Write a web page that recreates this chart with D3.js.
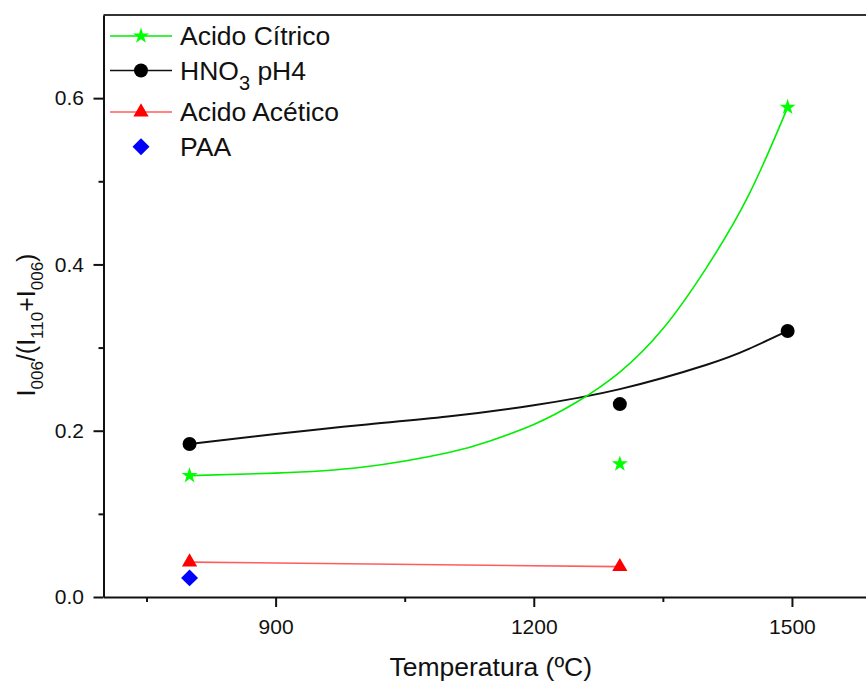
<!DOCTYPE html>
<html>
<head>
<meta charset="utf-8">
<script src="https://cdn.jsdelivr.net/npm/d3@7"></script>
<style>
  html, body { margin: 0; padding: 0; background: #fff; }
  svg { display: block; font-family: "Liberation Sans", Arial, sans-serif; }
</style>
</head>
<body>
<svg id="chart" width="866" height="682"></svg>
<script>
// Measured points (temperature in ºC, ratio I006/(I110+I006))
const citricoT = [800, 1300, 1495];
const citricoY = [0.146, 0.160, 0.589];
const hno3T = [800, 1300, 1495];
const hno3Y = [0.184, 0.232, 0.320];
const aceticoT = [800, 1300];
const aceticoY = [0.042, 0.0365];
const paaT = [800];
const paaY = [0.023];

// Fitted trend curves, sampled along their path
const citricoFitT = [800, 900, 1000, 1100, 1150, 1200, 1250, 1300, 1350, 1400, 1450, 1495];
const citricoFitY = [0.146, 0.149, 0.156, 0.1735, 0.188, 0.2075, 0.2345, 0.2705, 0.3225, 0.395, 0.484, 0.589];
const hno3FitT = [800, 900, 1000, 1100, 1200, 1300, 1400, 1450, 1495];
const hno3FitY = [0.184, 0.196, 0.207, 0.217, 0.2306, 0.250, 0.279, 0.2984, 0.320];
const aceticoFitT = [800, 1300];
const aceticoFitY = [0.042, 0.0365];

// Axis ticks
const xMajorTicks = [900, 1200, 1500];
const xMinorTicks = [750, 1050, 1350];
const yMajorTicks = [0.0, 0.2, 0.4, 0.6];
const yMinorTicks = [0.1, 0.3, 0.5];

(function () {
  const svg = d3.select("#chart");
  const plotL = 103.5, plotR = 878, plotT = 15, plotB = 597;

  const x = d3.scaleLinear().domain([700, 1600]).range([plotL, plotR]);
  const y = d3.scaleLinear().domain([0, 0.7]).range([plotB, plotT]);

  const zip = (a, b) => a.map((v, i) => [v, b[i]]);

  // Frame: top border
  svg.append("line")
    .attr("x1", plotL).attr("x2", plotR).attr("y1", plotT).attr("y2", plotT)
    .attr("stroke", "#333").attr("stroke-width", 2);

  // Axes
  function styleAxis(g) {
    g.select(".domain").attr("stroke", "#111").attr("stroke-width", 2);
    g.selectAll(".tick line").attr("stroke", "#111").attr("stroke-width", 2);
    g.selectAll(".tick text").attr("fill", "#111").attr("font-size", 21)
      .attr("font-family", "Liberation Sans, Arial, sans-serif");
  }

  svg.append("g")
    .attr("transform", `translate(0,${plotB})`)
    .call(d3.axisBottom(x).tickValues(xMinorTicks).tickSize(5).tickFormat(""))
    .call(g => { styleAxis(g); g.select(".domain").remove(); });
  svg.append("g")
    .attr("transform", `translate(0,${plotB})`)
    .call(d3.axisBottom(x).tickValues(xMajorTicks).tickSize(10).tickSizeOuter(0).tickPadding(12).tickFormat(d3.format("d")))
    .call(styleAxis);

  svg.append("g")
    .attr("transform", `translate(${plotL},0)`)
    .call(d3.axisLeft(y).tickValues(yMinorTicks).tickSize(5).tickFormat(""))
    .call(g => { styleAxis(g); g.select(".domain").remove(); });
  svg.append("g")
    .attr("transform", `translate(${plotL},0)`)
    .call(d3.axisLeft(y).tickValues(yMajorTicks).tickSize(10).tickSizeOuter(0).tickPadding(9.5).tickFormat(d3.format(".1f")))
    .call(styleAxis);

  // Axis titles
  svg.append("text")
    .attr("x", (plotL + plotR) / 2).attr("y", 676)
    .attr("text-anchor", "middle").attr("font-size", 26.5).attr("fill", "#111")
    .text("Temperatura (ºC)");

  const yTitle = svg.append("text")
    .attr("transform", "translate(35,325) rotate(-90)")
    .attr("text-anchor", "middle").attr("font-size", 25).attr("fill", "#111");
  const yParts = [["I", false], ["006", true], ["/(I", false], ["110", true], ["+I", false], ["006", true], [")", false]];
  yParts.forEach(([t, sub]) => {
    const ts = yTitle.append("tspan").text(t);
    if (sub) ts.attr("dy", 8).attr("font-size", 17);
    else if (t !== "I") ts.attr("dy", -8);
  });

  // Curves
  const line = d3.line().x(d => x(d[0])).y(d => y(d[1])).curve(d3.curveNatural);

  svg.append("path").datum(zip(aceticoFitT, aceticoFitY))
    .attr("d", line).attr("fill", "none").attr("stroke", "#ff5c5c").attr("stroke-width", 1.6);
  svg.append("path").datum(zip(hno3FitT, hno3FitY))
    .attr("d", line).attr("fill", "none").attr("stroke", "#111").attr("stroke-width", 2);
  svg.append("path").datum(zip(citricoFitT, citricoFitY))
    .attr("d", line).attr("fill", "none").attr("stroke", "#00ee00").attr("stroke-width", 1.6);

  // Symbols
  const star = d3.symbol().type(d3.symbolStar).size(80);
  const circle = d3.symbol().type(d3.symbolCircle).size(Math.PI * 7 * 7);
  const tri = d3.symbol().type(d3.symbolTriangle).size(100);
  const square = d3.symbol().type(d3.symbolSquare).size(144);

  function drawPoints(ts, ys, gen, color, rot) {
    svg.append("g").selectAll("path").data(zip(ts, ys)).join("path")
      .attr("d", gen)
      .attr("transform", d => `translate(${x(d[0])},${y(d[1])})` + (rot ? " rotate(45)" : ""))
      .attr("fill", color);
  }
  drawPoints(paaT, paaY, square, "#0000ff", true);
  drawPoints(aceticoT, aceticoY, tri, "#ff0000");
  drawPoints(hno3T, hno3Y, circle, "#000");
  drawPoints(citricoT, citricoY, star, "#00ff00");

  // Legend
  const legendItems = [
    { label: [["Acido Cítrico", false]], color: "#00ff00", lineColor: "#00ee00", gen: star, yc: 36, base: 44.5, line: true },
    { label: [["HNO", false], ["3", true], [" pH4", false]], color: "#000", lineColor: "#111", gen: circle, yc: 70.5, base: 80, line: true },
    { label: [["Acido Acético", false]], color: "#ff0000", lineColor: "#ff5c5c", gen: tri, yc: 112, base: 120.5, line: true },
    { label: [["PAA", false]], color: "#0000ff", gen: square, yc: 146.7, base: 155.5, line: false, rot: true }
  ];
  legendItems.forEach(it => {
    if (it.line) {
      svg.append("line").attr("x1", 110).attr("x2", 172).attr("y1", it.yc).attr("y2", it.yc)
        .attr("stroke", it.lineColor).attr("stroke-width", 1.6);
    }
    svg.append("path").attr("d", it.gen)
      .attr("transform", `translate(141,${it.yc})` + (it.rot ? " rotate(45)" : ""))
      .attr("fill", it.color);
    const t = svg.append("text").attr("x", 180).attr("y", it.base)
      .attr("font-size", 26.5).attr("fill", "#111");
    let sh = false;
    it.label.forEach(([s, sub]) => {
      const ts = t.append("tspan").text(s);
      if (sub) { ts.attr("dy", 10).attr("font-size", 20); sh = true; }
      else if (sh) { ts.attr("dy", -10); sh = false; }
    });
  });
})();
</script>
</body>
</html>
